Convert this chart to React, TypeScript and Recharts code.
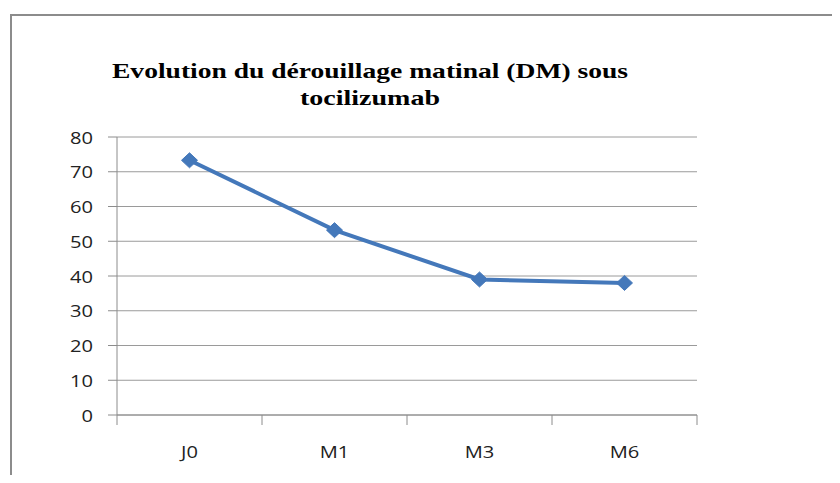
import React from "react";
import { LineChart, Line, XAxis, YAxis, CartesianGrid } from "recharts";

const categories = ["J0", "M1", "M3", "M6"];
const dmValues = [73.3, 53.2, 39.0, 38.0];
const yTicks = [0, 10, 20, 30, 40, 50, 60, 70, 80];
const titleLines = ["Evolution du dérouillage matinal (DM) sous", "tocilizumab"];

const data = categories.map((c, i) => ({ cat: c, dm: dmValues[i] }));

const BLUE = "#4478BA";
const AXIS = "#8c8c8c";
const PLOT_W = 840 - 117 - 143;
const BAND = PLOT_W / categories.length;

const Diamond = (props: any) => {
  const { cx, cy } = props;
  if (cx == null || cy == null) return null;
  const w = 8, h = 7.5;
  return (
    <polygon
      points={`${cx},${cy - h} ${cx + w},${cy} ${cx},${cy + h} ${cx - w},${cy}`}
      fill={BLUE}
      stroke={BLUE}
      strokeWidth={1}
    />
  );
};

const YTick = (props: any) => {
  const { x, y, payload } = props;
  return (
    <text
      x={0}
      y={0}
      transform={`translate(${x},${y}) scale(1.22,1)`}
      textAnchor="end"
      dominantBaseline="central"
      fontFamily="'Open Sans', sans-serif"
      fontSize={16.5}
      fill="#222"
    >
      {payload.value}
    </text>
  );
};

const XTick = (props: any) => {
  const { x, y, payload, index } = props;
  const axisY = 415;
  return (
    <g>
      <line x1={x - BAND / 2} y1={axisY} x2={x - BAND / 2} y2={axisY + 10} stroke={AXIS} />
      {index === categories.length - 1 && (
        <line x1={x + BAND / 2} y1={axisY} x2={x + BAND / 2} y2={axisY + 10} stroke={AXIS} />
      )}
      <text
        x={0}
        y={0}
        transform={`translate(${x},${451}) scale(1.22,1)`}
        textAnchor="middle"
        dominantBaseline="central"
        fontFamily="'Open Sans', sans-serif"
        fontSize={16.5}
        fill="#222"
      >
        {payload.value}
      </text>
    </g>
  );
};

export default function App() {
  return (
    <div style={{ position: "relative", width: 840, height: 483, margin: -8, background: "#fff", overflow: "hidden" }}>
      <div
        style={{
          position: "absolute",
          left: 10,
          top: 14,
          width: 840,
          height: 483,
          borderLeft: "2px solid #8c8c8c",
          borderTop: "2px solid #8c8c8c",
        }}
      />
      <div style={{ position: "absolute", left: 0, top: 0 }}>
        <LineChart
          width={840}
          height={483}
          data={data}
          margin={{ top: 137, right: 143, bottom: 0, left: 0 }}
        >
          <CartesianGrid horizontal={true} vertical={false} stroke="#9a9a9a" strokeWidth={1} />
          <XAxis
            dataKey="cat"
            scale="band"
            stroke={AXIS}
            tickLine={false}
            tick={<XTick />}
            height={68}
            interval={0}
          />
          <YAxis
            domain={[0, 80]}
            ticks={yTicks}
            width={117}
            stroke={AXIS}
            tickSize={9}
            tickLine={{ stroke: AXIS }}
            tick={<YTick />}
            tickMargin={15}
            interval={0}
          />
          <Line
            type="linear"
            dataKey="dm"
            stroke={BLUE}
            strokeWidth={4}
            dot={<Diamond />}
            isAnimationActive={false}
          />
        </LineChart>
      </div>
      <svg width={840} height={483} style={{ position: "absolute", left: 0, top: 0, pointerEvents: "none" }}>
        <text
          x={370}
          y={70}
          textAnchor="middle"
          dominantBaseline="central"
          fontFamily="'Liberation Serif', 'Times New Roman', serif"
          fontWeight="bold"
          fontSize={22}
          textLength={516}
          lengthAdjust="spacingAndGlyphs"
          fill="#000"
        >
          {titleLines[0]}
        </text>
        <text
          x={370}
          y={97}
          textAnchor="middle"
          dominantBaseline="central"
          fontFamily="'Liberation Serif', 'Times New Roman', serif"
          fontWeight="bold"
          fontSize={22}
          textLength={140}
          lengthAdjust="spacingAndGlyphs"
          fill="#000"
        >
          {titleLines[1]}
        </text>
      </svg>
    </div>
  );
}
